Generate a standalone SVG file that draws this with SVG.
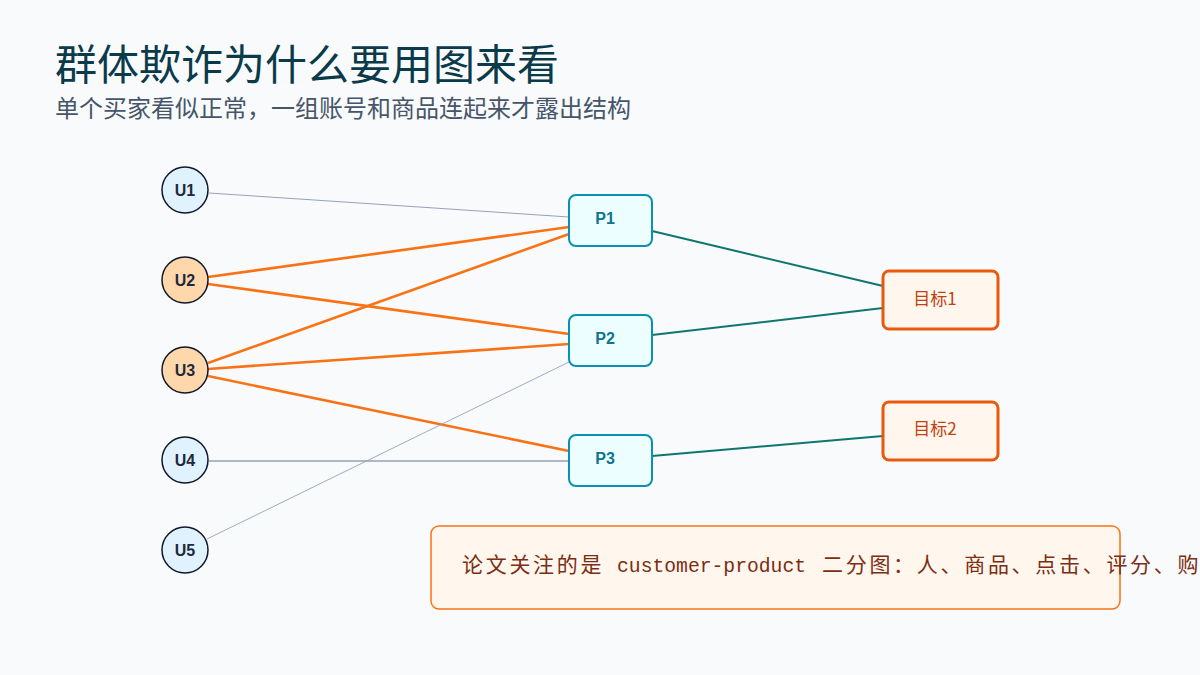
<svg xmlns="http://www.w3.org/2000/svg" width="1200" height="675" viewBox="0 0 1200 675">
<style>
.title{font-family:"Noto Sans CJK SC","Liberation Sans",sans-serif;font-size:42px;fill:#0b3a4a}
.sub{font-family:"Noto Sans CJK SC","Liberation Sans",sans-serif;font-size:24px;fill:#475569}
.ucirc{stroke:#0f172a;stroke-width:1.5}
.ulab{font-family:"Liberation Sans",Arial,sans-serif;font-weight:bold;font-size:16px;fill:#1e293b;text-anchor:middle}
.pbox{fill:#ecfeff;stroke:#0891b2;stroke-width:2}
.plab{font-family:"Liberation Sans",Arial,sans-serif;font-weight:bold;font-size:16px;fill:#0e7490;text-anchor:middle}
.tbox{fill:#fff7ed;stroke:#ea580c;stroke-width:3}
.tlab{font-family:"Noto Sans CJK SC","Liberation Sans",sans-serif;font-size:17px;fill:#c2410c;text-anchor:middle}
.gray{stroke:#94a3b8;stroke-width:1;fill:none}
.org{stroke:#f97316;stroke-width:2.6;fill:none}
.teal{stroke:#0f766e;stroke-width:2;fill:none}
.note{fill:#fff7ed;stroke:#f97316;stroke-width:1.5}
.notetxt{font-family:"Noto Sans CJK SC",sans-serif;font-size:21px;letter-spacing:2.7px;fill:#7c2d12}
.mono{font-family:"Liberation Mono","DejaVu Sans Mono",monospace;font-size:19.7px;letter-spacing:0}
</style>
<rect width="1200" height="675" fill="#f8fafc"/>
<text class="title" x="55" y="80">群体欺诈为什么要用图来看</text>
<text class="sub" x="55" y="117">单个买家看似正常，一组账号和商品连起来才露出结构</text>
<g id="connectors">
<line class="gray" x1="209" y1="193" x2="569" y2="217"/>
<line class="org" x1="208" y1="277" x2="569" y2="227"/>
<line class="org" x1="208" y1="284" x2="569" y2="334"/>
<line class="org" x1="208" y1="363" x2="569" y2="234"/>
<line class="org" x1="208" y1="369" x2="569" y2="344"/>
<line class="org" x1="208" y1="376" x2="569" y2="451"/>
<line class="gray" x1="209" y1="461" x2="569" y2="461" style="stroke-width:1.6"/>
<line class="gray" x1="207" y1="539" x2="569" y2="362" style="stroke-width:0.9"/>
<line class="teal" x1="652" y1="231" x2="883" y2="286"/>
<line class="teal" x1="652" y1="335" x2="883" y2="308"/>
<line class="teal" x1="652" y1="456" x2="883" y2="436"/>
</g>
<g id="U1"><circle class="ucirc" cx="185" cy="190" r="23" fill="#e0f2fe"/><text class="ulab" x="185" y="195.5">U1</text></g>
<g id="U2"><circle class="ucirc" cx="185" cy="280" r="23" fill="#fed7aa"/><text class="ulab" x="185" y="285.5">U2</text></g>
<g id="U3"><circle class="ucirc" cx="185" cy="370" r="23" fill="#fed7aa"/><text class="ulab" x="185" y="375.5">U3</text></g>
<g id="U4"><circle class="ucirc" cx="185" cy="460" r="23" fill="#e0f2fe"/><text class="ulab" x="185" y="465.5">U4</text></g>
<g id="U5"><circle class="ucirc" cx="185" cy="550" r="23" fill="#e0f2fe"/><text class="ulab" x="185" y="555.5">U5</text></g>
<g id="P1"><rect class="pbox" x="569" y="195" width="83" height="51" rx="7"/><text class="plab" x="605" y="223.5">P1</text></g>
<g id="P2"><rect class="pbox" x="569" y="315" width="83" height="51" rx="7"/><text class="plab" x="605" y="343.5">P2</text></g>
<g id="P3"><rect class="pbox" x="569" y="435" width="83" height="51" rx="7"/><text class="plab" x="605" y="463.5">P3</text></g>
<g id="T1"><rect class="tbox" x="883" y="271" width="115" height="58" rx="6"/><text class="tlab" x="935" y="305">目标1</text></g>
<g id="T2"><rect class="tbox" x="883" y="402" width="115" height="58" rx="6"/><text class="tlab" x="935" y="435">目标2</text></g>
<g id="note"><rect class="note" x="431" y="526" width="689" height="83" rx="8"/><text class="notetxt" x="462" y="572">论文关注的是<tspan class="mono" x="617">customer-product</tspan><tspan x="822">二分图：人、商品、点击、评分、购</tspan></text></g>
</svg>
